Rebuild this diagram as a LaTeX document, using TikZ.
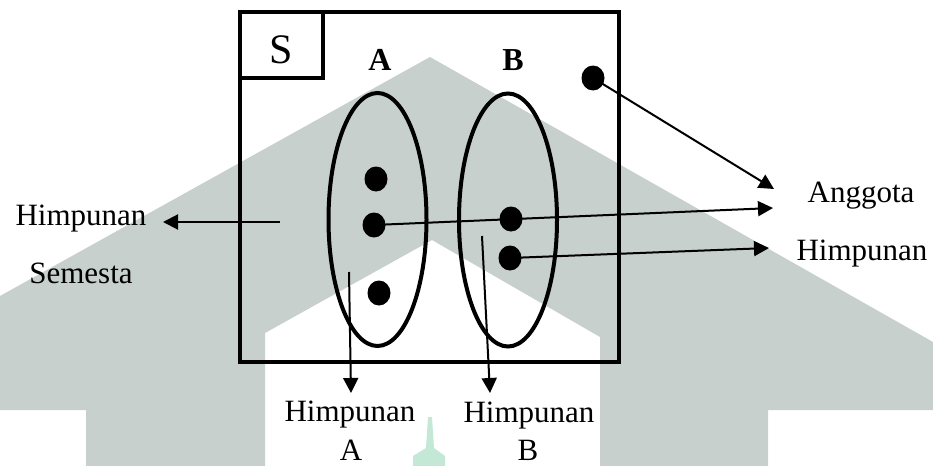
\documentclass[tikz,border=0pt]{standalone}
\usepackage{fontspec}
\setmainfont{Liberation Serif}
\usetikzlibrary{arrows.meta,shapes.geometric}
\definecolor{wmgray}{RGB}{199,208,204}
\definecolor{wmgreen}{RGB}{196,232,214}

\begin{document}
\begin{tikzpicture}[x=0.5pt,y=-0.5pt,
    lbl/.style={anchor=base, font=\fontsize{15.5}{18}\selectfont},
    setlbl/.style={anchor=base, font=\fontsize{16}{19}\selectfont\bfseries},
    dot/.style={ellipse, fill=black, minimum width=11.5pt, minimum height=12.5pt, inner sep=0pt},
    setell/.style={ellipse, draw, line width=2pt, minimum width=49pt, minimum height=126.5pt, inner sep=0pt},
    conn/.style={line width=1pt, -{Triangle[length=7.5pt,width=7.5pt]}}]
    \useasboundingbox (0,0) rectangle (933,466);

    % Watermark
    \fill[wmgray] (0,296) -- (430,57) -- (933,342) -- (933,410) -- (768,410)
        -- (768,466) -- (600,466) -- (600,337) -- (432,240) -- (265,333)
        -- (265,466) -- (86,466) -- (86,410) -- (0,410) -- cycle;
    \fill[wmgreen] (428,417) -- (432,417) -- (434,448) -- (445,456) -- (445,466)
        -- (413,466) -- (413,456) -- (426,448) -- cycle;

    % Universe
    \node[draw, line width=2pt, minimum width=189.5pt, minimum height=175pt, inner sep=0pt] (univ) at (429,187) {};
    \node[draw, line width=2pt, minimum width=41.75pt, minimum height=33pt, inner sep=0pt] (sbox) at (281.25,45) {};
    \node[anchor=base, font=\fontsize{21}{24}\selectfont] (slab) at (281,63) {S};

    % Sets
    \node[setell] (setA) at (377.5,219.5) {};
    \node[setell] (setB) at (508,220) {};
    \node[setlbl] (labA) at (380,70) {A};
    \node[setlbl] (labB) at (513,70) {B};

    % Members
    \node[dot] (dA1) at (376,179) {};
    \node[dot] (dA2) at (374,225) {};
    \node[dot] (dA3) at (379,293) {};
    \node[dot] (dB1) at (511,219) {};
    \node[dot] (dB2) at (510,258) {};
    \node[dot] (dS) at (593,78) {};

    % Labels
    \node[lbl] (semL1) at (81,225) {Himpunan};
    \node[lbl] (semL2) at (81,283) {Semesta};
    \node[lbl] (angL1) at (861,202) {Anggota};
    \node[lbl] (angL2) at (862,260) {Himpunan};
    \node[lbl] (hA1) at (350,421) {Himpunan};
    \node[lbl] (hA2) at (351,460) {A};
    \node[lbl] (hB1) at (529,422) {Himpunan};
    \node[lbl] (hB2) at (528,460) {B};

    % Arrow ends
    \coordinate (semFrom) at (280,222);
    \coordinate (semTo) at (163,222);
    \coordinate (angTo1) at (774,189);
    \coordinate (angTo2) at (773,208);
    \coordinate (angTo3) at (769,248);
    \coordinate (aFrom) at (349,272);
    \coordinate (aTo) at (351,393);
    \coordinate (bFrom) at (482,236);
    \coordinate (bTo) at (490,393);

    % Arrows
    \draw[conn] (semFrom) -- (semTo);
    \draw[conn] (dS.center) -- (angTo1);
    \draw[conn] (dA2.center) -- (angTo2);
    \draw[conn] (dB2.center) -- (angTo3);
    \draw[conn] (aFrom) -- (aTo);
    \draw[conn] (bFrom) -- (bTo);
\end{tikzpicture}
\end{document}
